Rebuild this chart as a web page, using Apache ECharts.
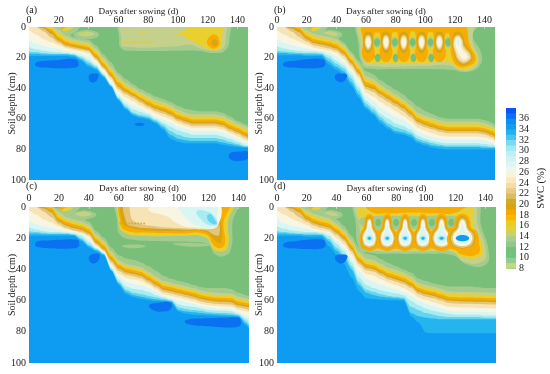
<!DOCTYPE html>
<html><head><meta charset="utf-8">
<style>html,body{margin:0;padding:0;background:#fff}#c{width:550px;height:374px}</style>
<script src="https://cdn.jsdelivr.net/npm/echarts@6/dist/echarts.min.js"></script>
</head><body><div id="c"></div>
<script>
const days=[0,5,10,15,20,25,30,35,40,45,50,55,60,65,70,75,80,85,90,95,100,105,110,115,120,125,130,135,140,145,147];
const dayTicks=[0,20,40,60,80,100,120,140];
const depthTicks=[0,20,40,60,80,100];

// Depth (cm) of each SWC contour below the wetting front, per day in `days`.
const a_h14=[0,0,0,0,0,4,6.5,7.5,8.5,12,18,23,30,34,37.5,40.5,43,45.5,47,49,51.5,53.5,54.5,55,55,55,56,58.5,61.5,63.5,64.5];
const a_h15=[0,0,0,0,2,6,8,9,10,14,20,26,32,36.5,39.5,42.5,45,47.5,49,51,54,56,57,57,57,57,58,60.5,63,65,66];
const a_y16=[0,0,0,0,4,7.5,9.5,10.5,11.5,15.5,21.5,27.5,34,38,41,44,46.5,49,50.5,52.5,55.5,57.5,58.5,58.5,58.5,58.5,59.5,62,64.5,66.5,67.5];
const a_o18=[0,0,0,1.5,6.5,9.5,11,12,13,17.5,23.5,29.5,36,40,43,46,48.5,51,52.5,54.5,57.5,59,60.5,60.5,60.5,60.5,61.5,64,66,68.5,69.5];
const a_g20=[0,0,0,3,8,11,12,13,14,19,25,31,38,41.5,44,47,50,52.5,54,56,59,60.7,62,62,62,62,63,65.5,67.7,70,71];
const a_t22=[0,0,1,4.5,9,12,13,14,15,20,26,32,39,42.5,45,48,51,53.5,55,57,60,61.7,63,63,63,63,64,66.5,68.7,71,72];
const a_t24=[0,0,3,7,10.5,13,14,15,16,21,27,33,40.5,44,46.5,49.5,52.5,55,56.5,58.5,61.5,63.2,64.5,64.5,64.5,64.5,65.5,68,70,72.5,73.5];
const a_w26=[2,5,8,10,12,14,15,16,17.5,22,28,34.5,42,46,48.5,51.5,54,56.5,58.5,60.5,63,64.7,66,66,66,66,67,69.5,71.5,74,75];
const a_c28=[9,11,12.5,13.5,14.5,15.5,16.5,17.5,19.5,24,29.5,36.5,44,48.5,51.5,53.5,56,58.5,60.5,62.5,65,66.5,68,68,68,68,69,71,73,75.5,76];
const a_c31=[13,14.5,15.5,16,16.5,17,17.5,19,21.5,25,30.5,37.5,45.5,50.5,54,55.5,57,60,62.5,65,67.5,69,70.5,70.5,70.5,70.5,71.5,73,75,77,77.5];
const a_c33=[16,16.5,17,17.5,17.5,17.5,18,20,23,26,31.5,38,46.5,52,56,57.5,58.5,61,64,68,70.5,72,72.5,72.5,72.5,72.5,73.5,75,76.5,78,78];
const a_c34=[17.5,17.5,18,18,18,18,18.5,21,24.5,27,32,38.5,47,53,57,58.5,59.5,62,65.5,70.5,73,74,74.5,74.5,74.5,74.5,75.5,76.5,77.5,78.5,78.5];
const a_b35=[19,19,19,19,19,19,19.5,22,26,28,33,39,48,54,58,59.5,60.5,63,67,73,75,76,76,76,76,76,77,78,78.5,79,79];

const b_h14=[0,0,0,0,0,3,4,5,6.5,10,16,22,29,31,35,38,41,44,48,52,55,57,59,60,60,60,60,60,60.8,62.5,64];
const b_h15=[0,0,0,0,2,4.5,5.5,6.5,8,11.5,17.5,24,32,34,38,41,44,47,51,56,58,59.5,61,62,62,62,62,62,62.8,64.5,66];
const b_y16=[0,0,0,0,3.5,6,7,8,9.5,13,19,25.5,34,35.5,39.5,42.5,45.5,48.5,52.5,57.5,59.5,61,62.5,63.5,63.5,63.5,63.5,63.5,64.3,66,67.5];
const b_o18=[0,0,0,0.5,5.5,8,9,10,11.5,15,21,27.5,36,37.5,41.5,44.5,47.5,50.5,54.5,59.5,61.5,63,64.5,65.5,65.5,65.5,65.5,65.5,66.3,68,69.5];
const b_g20=[0,0,0,2,7,9.5,10.5,11.5,13,16.5,22.5,29,38,39,43,46,49,52,56,61,63,64.5,66,67,67,67,67,67,67.8,69.5,71];
const b_t22=[0,0,1,3.5,8,10.5,11.5,12.5,14,17.5,23.5,30,39,40.5,44,47,50,53,57,62,64,65.5,67,68,68,68,68,68,68.8,70.5,72];
const b_t24=[0,0,3,6.5,9.5,12,13,14,15.5,19,25,31.5,40.5,42.5,46,49,52,55,59,63.5,65.5,67,68.5,69.5,69.5,69.5,69.5,69.5,70.3,72,73.5];
const b_w26=[2,5,7.5,9.5,11.5,13.5,14.5,15.5,17,21,27,33.5,43,45.5,49,52,55,58,61.5,66,68,69.5,71,71.5,71.5,71.5,71.5,71.5,72.3,73.5,75];
const b_c28=[8,10.5,12,13,14,15,15.5,16.5,19,23,29,36,45,48.5,53,56,59,61,64,68.5,70.5,72,73,73.5,73.5,73.5,73.5,73.5,74,75.5,76];
const b_c31=[12.5,14,15,15.5,16,16,16.5,18.5,22,25,31,39,48,52,57,60,63,64.5,67,71,73,74.5,75.5,76,76,76,76,76,76.5,77,77.5];
const b_c33=[15.5,16,16.5,17,17,17,17.5,20.5,24,27,33.5,41.5,50,54,59,63,65.5,67,69,73,74.5,76,77,77.5,77.5,77.5,77.5,77.5,78,78.5,78.5];
const b_c34=[17,17,17.5,17.5,18,18,18,22.5,26,29,36,44,52,56,61,65,68,69,70.5,74.5,76,77.5,78,78.5,78.5,78.5,78.5,78.5,79,79,79];
const b_b35=[18.5,18.5,18.5,18.5,19,19,19,24.5,28,31,38,46,53.5,57.5,63,66.5,69.5,70.5,72,76,77.5,79,79.5,80,80,80,80,80,80,80,80];

const c_h14=[0,0,0,0,1,4.5,6,7.2,9.3,15.5,19.5,26,31,33,34,35.5,38,41,44,46,47.5,48.5,50,51.5,52,52,52,52.5,55,56.5,57.5];
const c_h15=[0,0,0,0,3,6.5,8,9.2,11.3,17.5,21.5,28.5,34,36.5,37.5,38.7,41.5,44.5,47.5,48.5,49.7,50.8,52,53.5,54.5,55,55.3,55.5,57.5,58.5,59];
const c_y16=[0,0,0,0,5,8,9.5,10.7,12.8,19,23,30,35.5,38,39,40.2,43,46,49,50,51.2,52.3,53.5,55,56,56.5,56.8,57,59,60,60.5];
const c_o18=[0,0,0,0.5,7,9.5,11,12.2,14.3,20.5,24.5,31.5,37,39.5,40.5,41.7,44.5,47.5,50.5,51.5,52.7,53.8,55,56.5,57.5,58,58.3,58.5,60.5,61.5,62];
const c_g20=[0,0,0,2,8.5,11,12.5,13.7,15.8,22,26,33,38.5,41,42,43.2,46,49,52,53,54.2,55.3,56.5,58,59,59.5,59.8,60,62,63,63.5];
const c_t22=[0,0,1,3.5,9.5,12,13.5,14.7,16.8,23,27,34,39.5,42,43,44.2,47,50,53,54,55.2,56.3,57.5,59,60,60.5,60.8,61,63,64,64.5];
const c_t24=[0,0,3,6.5,11,13.5,15,16,18,24,28,35.5,41,43.5,44.5,45.7,48.5,51.5,54.5,55.5,56.7,57.8,59,60.5,61.5,62,62.3,62.5,64.5,65.5,66];
const c_w26=[2,5,8,10,12.5,14.5,15.5,16.8,19,25,28.5,37,43,45.5,46.5,47.5,50,53,56,57,58.2,59.3,60.5,62,63,63.5,63.8,64,66,67,67.5];
const c_c28=[9,11,12.5,13.5,14.5,15.5,16.2,17.5,20.5,26,29,38,44.5,48,49.5,50,52,54.5,57,58.5,60,61,62,63.5,64.5,65,65.2,65.5,67.5,69.5,71];
const c_c31=[13,14.5,15.5,16,16,16.5,17,18.5,22.5,26.5,29.5,39,46.5,51,52.5,53,54.5,56.5,58,59.5,62.5,63.5,64,65,66,66.3,66.5,66.8,68.5,71.5,73.5];
const c_c33=[15.5,16,16.5,17,17,17,17.5,20,24,27,30,40,48,53,55,56,57,58,59,60,64.5,65.5,66,66.5,67.5,67.8,68,68.2,69.2,73,75.5];
const c_c34=[17,17,17.5,17.5,17.5,17.5,18,21,25,27.8,30.5,40.5,49,54.5,56.5,57.5,58.5,59.3,59.8,60.5,66,67,67.5,68,68.5,68.8,69,69.2,69.8,74.5,77];
const c_b35=[18.5,18.5,18.5,18.5,18.5,18.5,18.5,22,26,28.5,31,41,50,56,57.8,59,59.7,60.2,60.5,61,67,68.5,69,69.2,69.5,69.7,70,70.2,70.4,76,78];

const d_h14=[0,0,0,0,0,2,3.5,5,8,12,18.5,26,30,31,33.5,36,38,40,42,46,47.5,49,50,51,51,51,51,51.5,52,52,52];
const d_h15=[0,0,0,0,2,4.5,6,7.2,10.5,14.5,21,29,33,34,36.5,39,40.4,42,44.5,48.5,50,51,52.5,54,54.3,54.5,54.5,54.7,54.8,55,55];
const d_y16=[0,0,0,0,3.5,6,7.5,8.7,12,16,22.5,30.5,34.5,35.5,38,40.5,41.9,43.5,46,50,51.5,52.5,54,55.5,55.8,56,56,56.2,56.3,56.5,56.5];
const d_o18=[0,0,0,0.5,5.5,8,9.5,10.7,14,18,24.5,32.5,36.5,37.5,40,42.5,43.9,45.5,48,52,53.5,54.5,56,57.5,57.8,58,58,58.2,58.3,58.5,58.5];
const d_g20=[0,0,0,2,7,9.5,11,12.2,15.5,19.5,26,34,38,39,41.5,44,45.4,47,49.5,53.5,55,56,57.5,59,59.3,59.5,59.5,59.7,59.8,60,60];
const d_t22=[0,0,1,3.5,8,10.5,12,13.2,16.5,20.5,27,35,39,40,42.5,45,46.4,48,50.5,54.5,56,57,58.5,60,60.3,60.5,60.5,60.7,60.8,61,61];
const d_t24=[0,0,3,6.5,9.5,12,13.5,14.7,18,22,28.5,36.5,40.5,41.5,44,46.5,47.9,49.5,52,56,57.5,58.5,60,61.5,61.8,62,62,62.2,62.3,62.5,62.5];
const d_w26=[2,5,7.5,9.5,11.5,14,15,16,20,24,30.5,38.5,43,44,46.5,48.5,50,52,54.5,58,59.5,61,62.5,64,64.3,64.5,64.5,64.7,64.8,65,65];
const d_c28=[8,10.5,12,13,14,15,15.5,17,21.5,26,33,41,46,48,50,51.5,53,54.5,57,60,62,63.5,65,66.5,66.8,67,67,67.2,67.3,67.5,67.5];
const d_c31=[12.5,14,15,15.5,16,16,16.5,18.5,23.5,28,35.5,45,50,52,53.5,54.5,55.5,56.5,60,63,65,66.5,67.5,68.5,69,69,69,69,69.5,69.5,69.5];
const d_c33=[15.5,16,16.5,17,17,17,17.5,20.5,26,30.5,38,48,53,54.5,56,57,57.5,58,64,66,68,69,70,70.5,70.5,70.5,70.5,70.5,71,71,71];
const d_c34=[17,17,17.5,17.5,18,18,18,22,28,32.5,40,50,55,56.5,57.5,58,58.5,59,68,70,71,71.5,72,72,72,72,72,72,72,72,72];
const d_b35=[18.5,18.5,18.5,18.5,19,19,19,25,30.5,36.5,45,54,58.5,59,59.5,59.7,59.8,60,70,74,80.5,81,81,81,81,81,81,81,81,81,81];

const levelNames=["h14","h15","y16","o18","g20","t22","t24","w26","c28","c31","c33","c34","b35"];
const levelColors={g12:"#79bf7a",h14:"#a3cb8d",h15:"#c5d18a",y16:"#ead02e",o18:"#f7ac02",g20:"#d8a410",t22:"#e2c47a",t24:"#f6e4b4",w26:"#f8f6e2",c28:"#d8f6f4",c31:"#a8ecf1",c33:"#62d5f0",c34:"#25b5ee",b35:"#0e9bf2",b37:"#0a72f0"};

// Closed SWC contours: level, then day,depth pairs.
const a_patches=[
["h14",14,-3,18,5,30,4,34,-3],["y16",14,-3,16,3.5,22,3,29,1,30,-3],["o18",14,-3,15,2.5,21,2.5,26,-3],["g20",15,-3,17,2,20,1.5,21,-3],
["h14",30,5,35,2.5,43,2.5,47,5,43,7.5,35,7.5],["h15",33,4.5,38,3,44,4.5,38,6],["y16",36,4.2,38,3.8,40,4.2,38,4.8],
["h14",62,-3,60.5,8,62,14,70,15.5,100,15.5,113,15.5,125,17,132,15,134.5,8,133,-3],
["h15",63,-3,62,8,63,12.5,100,12.5,108,11.5,115,14,125,15.5,130,14,132,8,130,-3],
["y16",97,4.5,105,2.5,106,-3,128,-3,129.5,8,128,14,122,15,115,12,108,8.5,103,5.5],
["o18",119.5,9,125,5,128,10,126,13.5,122,13.5],["g20",122.5,10,125,8,126.5,11,124.5,12.5],
["b37",4,24.5,6,22.7,12,22,20,21.5,31,21,33,23,33,25.5,30,26.7,20,27,10,26.5,6,26],["b37",40,33,41,31,44,30.5,46.5,31,46,34,44,36,41.5,36],
["b37",71,63.5,74,62.5,77.5,63.5,74,64.7],["b37",134,84.5,136,82,140,81.5,147,81.5,147,86,141,87.5,136,87]];
const b_patches=[
["h14",14,-3,18,5,30,4,34,-3],["y16",14,-3,16,3.5,22,3,29,1,30,-3],["o18",14,-3,15,2.5,21,2.5,26,-3],["g20",15,-3,17,2,20,1.5,21,-3],
["h14",28,5,32,2.5,40,2.5,44,5,40,7.5,32,7.5],["h15",31,4.5,36,3,41,5,36,6],["y16",35,4.2,37,3.8,39,4.2,37,4.8],
["h14",56,-3,55,12,57,24,60,27,80,27.5,100,27.5,118,28,127,29.5,136,26,138,18,132,5,137,-3],
["h15",57,-3,56,12,58,23,62,25.5,100,25.5,116,25,124,28.5,131,28,136,22,132,10,130,-3],
["y16",59,-3,58,12,59,21,62,23.5,100,23.5,116,23,122,27,130,27,135,22,131,12,127,4,129,-3],
["o18",58,-3,60,2.5,75,3.5,90,3,105,3.5,125,3,128,-3],
["g20",60.5,17,63,16,66,18.5,64,21.5,60.5,21],["g20",107,17,110,16,113.5,18,112,21,108,21],
["h14",64.8,10,67.5,6.5,70.2,10,67.5,13.5],["h14",76.8,10,79.5,6.5,82.2,10,79.5,13.5],["h14",88.8,10,91.5,6.5,94.2,10,91.5,13.5],["h14",100.8,10,103.5,6.5,106.2,10,103.5,13.5],["h14",112.8,10,115.5,6.5,118.2,10,115.5,13.5],
["g12",65.5,10,67.5,7.5,69.5,10,67.5,12.5],["g12",77.5,10,79.5,7.5,81.5,10,79.5,12.5],["g12",89.5,10,91.5,7.5,93.5,10,91.5,12.5],["g12",101.5,10,103.5,7.5,105.5,10,103.5,12.5],["g12",113.5,10,115.5,7.5,117.5,10,115.5,12.5],
["g12",66,20,68,17.5,70,20,68,23],["g12",78,20,80,17.5,82,20,80,23],["g12",90,20,92,17.5,94,20,92,23],["g12",102,20,104,17.5,106,20,104,23],
["o18",116.5,-3,117,10,118,20,122,25.5,129,25.5,134,21,130,12,126,-3],
["g20",118.5,6,122,3,125.5,6,127,11,132,19,129,24,123,24,119.5,18],
["t22",119,8,122,5,125,8,126,12,131,19,128.5,23,123.5,23,120,17],
["t24",119.5,8.5,122,6,124.5,8.5,125.5,13,130,19,128,22,124,22,120.5,16],
["w26",120.3,9,122,7,123.7,9,124.5,14,128.5,19,127,21,125,20.5,121.5,15],
["c28",121,9,122,7.5,123.2,9,122.5,13],
["b37",4,24.5,6,22.7,12,22,20,21,31,21,32.5,23,32,25.5,29,26.7,20,27,10,26.5,6,26],["b37",39,33,40,31,43,30.5,47,31,46.5,34,44,36,41,35.5]];
const c_patches=[
["h14",14,-3,18,5,30,4,34,-3],["y16",14,-3,16,3.5,22,3,29,1,30,-3],["o18",14,-3,15,2.5,21,2.5,26,-3],["g20",15,-3,17,2,20,1.5,21,-3],
["h14",28,5,34,2.5,40,2.5,45,5,40,7.5,34,7.5],["h15",31,4.5,36,3,42,4.5,36,6],["y16",35,4.2,37,3.8,39,4.2,37,4.8],
["h14",60,-3,59,10,61,18,70,21,90,22,110,22.5,120,24,124,30,130,31.5,135,27,136,10,138,-3],
["y16",62,-3,60,10,63,16,75,18.5,100,18.5,118,19.5,123,27,129,28.5,133,25,133,10,135,-3],
["o18",63,-3,61,10,65,15,80,16.5,100,17,118,17.5,124,25,129,26,131,22,130,10,133,-3],
["g20",64,-3,62,9,67,13,80,15,100,15.5,118,16,125,22,128,23,129,15,128,5,130,-3],
["t22",66,-3,65,10,70,12.5,85,14,100,14.5,118,15,124,18,127,18,127,8,126,-3],
["t24",70,-3,68,6,72,10,85,12.5,100,13.5,120,14,126,12,125.5,-3],
["w26",80,2,88,-3,125,-3,125.5,12,110,13,100,11,92,6],
["c28",100,-3,104,6,112,12,124,13,125.5,8,124,-3],
["c31",112,3,118,2.5,124,6,125.5,11,120,11.5,115,8],
["c33",119,6,121,4.5,124,8,125.5,11,121,10],
["h14",62,25,70,24,78,25,70,26.5],["h14",96,23.5,110,23,122,24,110,25.5],
["b37",4,24,6,22,12,21.5,20,21,32,21,33.5,23,33,25.5,30,26.5,20,26.7,10,26.3,6,25.7],["b37",40,33,41,31,44,30,47,30.5,46.5,34,44,36,41.5,35.7],
["b37",80,63.5,82,62,86,61.5,94,61,95.5,63,94,66,90,67,84,66.5],["b37",104,73.5,107,72,115,71.5,130,71,140,71,141.5,73,141,76,135,77.3,120,76.5,108,75.5]];
const d_patches=[
["h14",14,-3,18,5,30,4,34,-3],["y16",14,-3,16,3.5,22,3,29,1,30,-3],["o18",14,-3,15,2.5,21,2.5,26,-3],["g20",15,-3,17,2,20,1.5,21,-3],
["h14",28,5,32,2.5,40,2.5,44,5,40,7.5,32,7.5],["h15",31,4.5,36,3,41,5,36,6],["y16",35,4.2,37,3.8,39,4.2,37,4.8],
["h14",54,-3,53,12,55,26,60,29,80,30,100,30,118,31,128,37,140,37,142,28,137,12,133,-3],
["h15",55,-3,55.5,14,57,26,62,28,100,28.5,118,29,125,35,138,35,140,27,135,12,130,-3],
["y16",57,-3,56.5,14,58,25,62,27,100,27.5,118,28,124,32,136,32,138,26,132,12,128,-3],
["o18",60,-3,63,3,75,4,90,3.5,105,4,120,3.5,128,-3],
["h14",55,9,62,6,90,6,120,6,128,9,120,14,90,14,62,14],
["g12",66,10,68,7.5,70,10,68,12.5],["g12",78,10,80,7.5,82,10,80,12.5],["g12",90,10,92,7.5,94,10,92,12.5],["g12",102,10,104,7.5,106,10,104,12.5],["g12",115,10,117,7.5,119,10,117,12.5],
["o18",58,16,58,25,62,26.5,100,26.5,118,27,124,30.5,134,30.5,136,25,131,14,100,16,80,16],
["b37",4,24.5,6,22.7,12,22,20,21,31,21,32.5,23,32,25.5,29,26.7,20,27,10,26.5,6,26],["b37",39,33,40,31,43,30.5,47,31,46.5,34,44,36,41,35.5]];

// Finger-shaped wetted zones under the irrigation emitters: shapes as offset day, depth pairs.
const b_fingerDays=[61.5,73.5,85.5,97.5,109.5];
const b_fingerShapes=[
["o18",-4,-3,-3.5,10,-4,19,0,23,4,19,3.5,10,4,-3],
["g20",-2.8,5,0,3,2.8,5,2.8,13,0,17,-2.8,13],
["t22",-2,7,0,5,2,7,2,12.5,0,15,-2,12.5],
["t24",-1.6,7.5,0,6,1.6,7.5,1.6,12,0,14,-1.6,12],
["w26",-1.2,8.5,0,7,1.2,8.5,1.2,11.5,0,13,-1.2,11.5]];
const d_fingerDays=[62,74,86,98,110.5,124.5];
const d_fingerWidths=[1,1,1,1,1.25,1.6];
const d_fingerShapes=[
["o18",-3.2,9,-1.5,5,1.5,5,3.2,9,3.6,13,6,17,6,24,3,27.5,-3,27.5,-6,24,-6,17,-3.6,13],
["g20",-2.3,9,-1,6.3,1,6.3,2.3,9,2.8,13,5,17,5,23,2.5,26,-2.5,26,-5,23,-5,17,-2.8,13],
["t22",-1.7,10,-0.8,7.5,0.8,7.5,1.7,10,2.3,13.5,4.5,17.5,4.5,22.5,2.5,25.5,-2.5,25.5,-4.5,22.5,-4.5,17.5,-2.3,13.5],
["w26",-1.2,10.5,-0.5,8.5,0.5,8.5,1.2,10.5,1.8,14,3.8,18,3.8,22,2,24.5,-2,24.5,-3.8,22,-3.8,18,-1.8,14],
["c28",-0.6,13,0,11,0.6,13,1.5,16,2.8,19,2.6,22,0,23.5,-2.6,22,-2.8,19,-1.5,16],
["c31",-2.2,20,0,18.3,2.2,20,0,21.7],
["c34",-1.2,20,0,19,1.2,20,0,21]];

const a_spots=[[62,10],[64,10],[66,10],[68,10],[70,10],[72,10],[74,10],[76,10],[78,10],[80,10],[82,10],[76,3.5],[78.5,3.5],[36,4]];
const c_spots=[[61,10.5],[63,10.5],[65,10.5],[67,10.5],[69,10.5],[71,10.5],[73,10.5],[75,10.5],[77,10.5]];

const legendLevels=[38,37,36,35,34,33,32,31,30,29,28,27,26,25,24,23,22,21,20,19,18,17,16,15,14,13,12,11,10,9];
const legendColors=["#0a55f5","#0a72f2","#0c8ff2","#129df3","#22b2ef","#45c5ef","#7adbee","#a2e8f0","#bdf0f2","#cdf3f4","#dbf6f5","#ecf8ee","#fbf3d8","#f8e8bc","#f4dca4","#e6cb85","#dabb5e","#cfaa30","#d9a40e","#f6a800","#f8b800","#eecb20","#e2d040","#c9d26a","#a9cc8f","#8fc88a","#76c07a","#73c27e","#8fcf95","#c8d77d"];

const axisTitle="Days after sowing (d)";
const depthTitle="Soil depth (cm)";
const legendTitle="SWC (%)";
const FONT="Liberation Serif",INK="#1a1a1a";

const panels=[
 {tag:"(a)",box:{left:29,top:27,width:219,height:153},ends:[a_h14,a_h15,a_y16,a_o18,a_g20,a_t22,a_t24,a_w26,a_c28,a_c31,a_c33,a_c34,a_b35],patches:a_patches,spots:a_spots,tagTop:5,tickGap:2,titleGap:11,depthGap:12},
 {tag:"(b)",box:{left:277,top:27,width:218,height:153},ends:[b_h14,b_h15,b_y16,b_o18,b_g20,b_t22,b_t24,b_w26,b_c28,b_c31,b_c33,b_c34,b_b35],patches:b_patches,fingers:[b_fingerDays,b_fingerShapes,null],tagTop:5,tickGap:2,titleGap:11,depthGap:13},
 {tag:"(c)",box:{left:29,top:207,width:220,height:156},ends:[c_h14,c_h15,c_y16,c_o18,c_g20,c_t22,c_t24,c_w26,c_c28,c_c31,c_c33,c_c34,c_b35],patches:c_patches,spots:c_spots,tagTop:181,tickGap:4,titleGap:14,depthGap:12},
 {tag:"(d)",box:{left:277,top:207,width:219,height:156},ends:[d_h14,d_h15,d_y16,d_o18,d_g20,d_t22,d_t24,d_w26,d_c28,d_c31,d_c33,d_c34,d_b35],patches:d_patches,fingers:[d_fingerDays,d_fingerShapes,d_fingerWidths],extra:[["b35",120,20,124.5,18,129,20,124.5,22]],tagTop:181,tickGap:4,titleGap:14,depthGap:13}
];

const grids=[],xAxes=[],yAxes=[],series=[],titles=[];
const tickStyle={fontFamily:FONT,fontSize:10,color:INK};
const xTitleStyle={fontFamily:FONT,fontSize:9.2,color:INK};
const yTitleStyle={fontFamily:FONT,fontSize:10,color:INK};
panels.forEach((p,i)=>{
  grids.push({...p.box,show:true,backgroundColor:levelColors.g12,borderWidth:0});
  xAxes.push({gridIndex:i,type:"value",position:"top",min:0,max:147,interval:20,
    name:axisTitle,nameLocation:"middle",nameGap:p.titleGap,nameMoveOverlap:false,nameTextStyle:xTitleStyle,
    axisLine:{show:false},splitLine:{show:false},
    axisTick:{show:true,length:2,inside:true,lineStyle:{color:"rgba(255,255,255,0.45)"},customValues:dayTicks},
    axisLabel:{...tickStyle,margin:p.tickGap,customValues:dayTicks}});
  yAxes.push({gridIndex:i,type:"value",inverse:true,min:0,max:100,interval:20,
    name:depthTitle,nameLocation:"middle",nameGap:p.depthGap,nameRotate:90,nameMoveOverlap:false,nameTextStyle:yTitleStyle,
    axisLine:{show:false},splitLine:{show:false},axisTick:{show:false},
    axisLabel:{...tickStyle,margin:3,customValues:depthTicks}});
  titles.push({text:p.tag,left:p.box.left-3,top:p.tagTop,padding:0,textStyle:{...tickStyle,fontWeight:"normal"}});
  // closed contours
  const shapes=p.patches.filter(s=>s[0]!=="b37");
  if(p.fingers){
    p.fingers[0].forEach((day,k)=>{
      const w=p.fingers[2]?p.fingers[2][k]:1;
      p.fingers[1].forEach(s=>{
        const out=[s[0]];
        for(let j=1;j<s.length;j+=2) out.push(day+s[j]*w,s[j+1]);
        shapes.push(out);
      });
    });
  }
  if(p.extra) shapes.push(...p.extra);
  series.push({type:"custom",xAxisIndex:i,yAxisIndex:i,clip:true,silent:true,animation:false,
    data:shapes.map((s,k)=>[0,0,k]),
    renderItem:(params,api)=>{
      const s=shapes[api.value(2)],pts=[];
      for(let j=1;j<s.length;j+=2) pts.push(api.coord([s[j],s[j+1]]));
      return {type:"polygon",shape:{points:pts,smooth:0.5},style:{fill:levelColors[s[0]]}};
    }});
  // contours of the wetting front, filled down to the bottom of the profile
  levelNames.forEach((n,k)=>{
    series.push({type:"line",xAxisIndex:i,yAxisIndex:i,silent:true,animation:false,symbol:"none",z:2,
      smooth:0.25,smoothMonotone:"x",clip:true,lineStyle:{width:0},
      areaStyle:{origin:"end",color:levelColors[n],opacity:1},
      data:days.map((d,m)=>[d,p.ends[k][m]])});
  });
  // dark wet lenses sit on top of the deep blue
  const lens=p.patches.filter(s=>s[0]==="b37");
  series.push({type:"custom",xAxisIndex:i,yAxisIndex:i,clip:true,silent:true,animation:false,z:5,
    data:lens.map((s,k)=>[0,0,k]),
    renderItem:(params,api)=>{
      const s=lens[api.value(2)],pts=[];
      for(let j=1;j<s.length;j+=2) pts.push(api.coord([s[j],s[j+1]]));
      return {type:"polygon",shape:{points:pts,smooth:0.5},style:{fill:levelColors.b37}};
    }});
  if(p.spots) series.push({type:"scatter",xAxisIndex:i,yAxisIndex:i,silent:true,animation:false,symbolSize:2,z:5,
    itemStyle:{color:i===0?"#e8c43a":"#e8a010"},data:p.spots});
});
// colour scale
grids.push({left:506,top:108,width:10,height:160.5,borderWidth:0});
xAxes.push({gridIndex:4,type:"category",data:["SWC"],show:false});
yAxes.push({gridIndex:4,type:"value",position:"right",min:8,max:38,interval:2,
  name:legendTitle,nameLocation:"middle",nameGap:20,nameRotate:90,nameMoveOverlap:false,nameTextStyle:{fontFamily:FONT,fontSize:10.5,color:INK},
  axisLine:{show:false},axisTick:{show:false},splitLine:{show:false},
  axisLabel:{...tickStyle,margin:3,formatter:v=>(v>=38?"":String(v))}});
legendLevels.forEach((lv,k)=>{
  series.push({type:"bar",xAxisIndex:4,yAxisIndex:4,silent:true,animation:false,barWidth:"100%",barGap:"-100%",
    itemStyle:{color:legendColors[k]},data:[lv]});
});

const chart=echarts.init(document.getElementById("c"),null,{renderer:"canvas",width:550,height:374});
chart.setOption({animation:false,backgroundColor:"#fff",title:titles,grid:grids,xAxis:xAxes,yAxis:yAxes,series,tooltip:{show:false}});
</script></body></html>
